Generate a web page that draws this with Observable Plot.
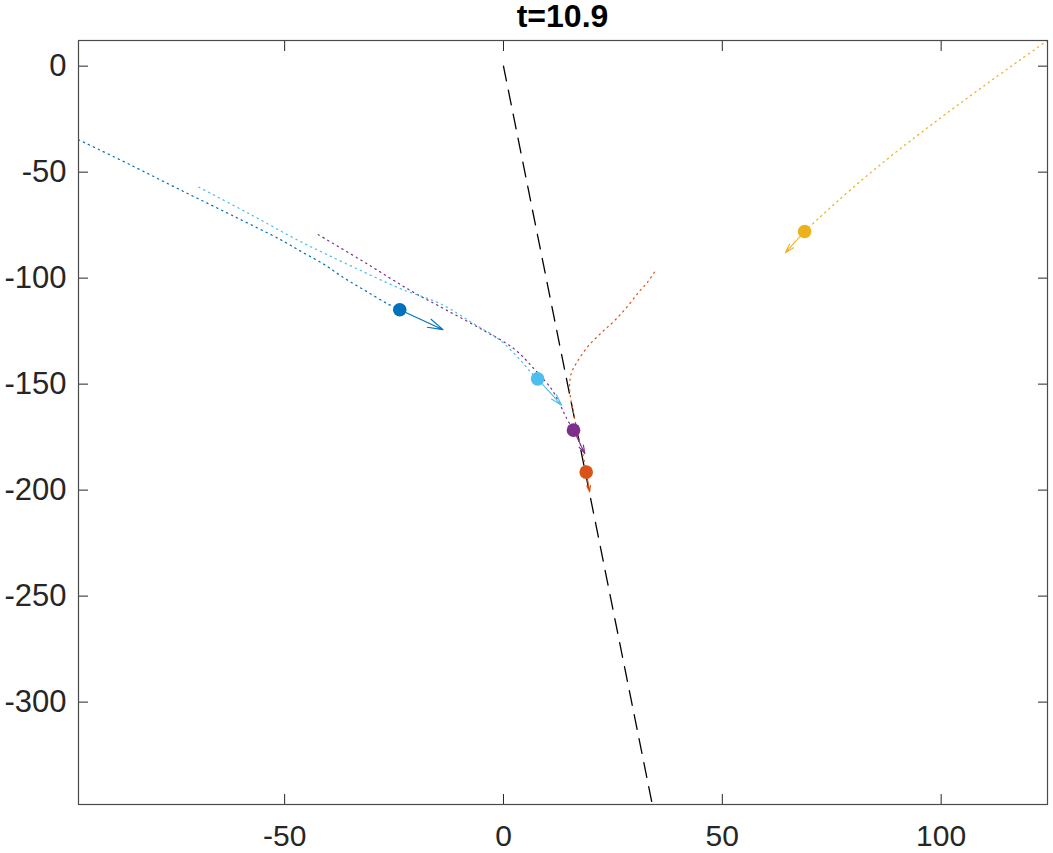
<!DOCTYPE html>
<html>
<head>
<meta charset="utf-8">
<script src="https://cdn.jsdelivr.net/npm/d3@7"></script>
<script src="https://cdn.jsdelivr.net/npm/@observablehq/plot@0.6"></script>
<style>
  body { margin: 0; background: #fff; font-family: "Liberation Sans", Arial, Helvetica, sans-serif; }
  #title { height: 30px; line-height: 32px; padding: 0 6px 0 78px; text-align: center; font-weight: bold; font-size: 32px; color: #000; white-space: nowrap; }
  #chart svg { display: block; }
</style>
</head>
<body>
<div id="title">t=10.9</div>
<div id="chart"></div>
<script>
// ---- data ----
const titleText = "t=10.9";
const xTicks = [-50, 0, 50, 100];
const yTicks = [0, -50, -100, -150, -200, -250, -300];
const xDomain = [-97.1, 124.3];
const yDomain = [-348.3, 12.1];

const seriesNames = ["s1", "s2", "s3", "s4", "s5"];
const seriesColors = ["#0072BD", "#D95319", "#EDB120", "#7E2F8E", "#4DBEEE"];

// trails (dotted paths, ending at each dot)
const trail1X = [-97.1, -85.3, -73.9, -62.3, -50.9, -46.0, -41.0, -36.5, -31.5, -26.5, -23.7];
const trail1Y = [-34.7, -46.5, -58.3, -70.1, -81.9, -87.7, -93.5, -99.8, -106.0, -112.1, -114.9];
const trail2X = [34.5, 32.9, 30.9, 28.3, 25.4, 22.3, 19.3, 16.8, 15.5, 15.1, 15.3, 15.9, 16.5, 17.3, 18.1, 18.9];
const trail2Y = [-97.2, -101.9, -106.6, -113.4, -120.0, -125.9, -132.2, -139.6, -144.8, -150.6, -156.1, -162.4, -168.7, -176.0, -182.8, -191.5];
const trail3X = [124.3, 118.0, 112.0, 106.0, 100.0, 94.0, 88.0, 82.0, 76.0, 72.0, 68.8];
const trail3Y = [12.1, 2.9, -6.0, -15.0, -24.2, -33.6, -43.3, -53.5, -64.3, -71.8, -78.0];
const trail4X = [-42.3, -31.2, -21.3, -12.9, -4.5, 2.4, 7.3, 11.1, 13.0, 14.3, 16.0];
const trail4Y = [-79.5, -93.2, -105.8, -115.2, -124.7, -133.3, -143.5, -152.7, -160.0, -165.6, -171.7];
const trail5X = [-69.6, -58.1, -46.9, -40.4, -32.0, -23.5, -14.4, -6.8, -0.7, 3.9, 6.2, 7.8];
const trail5Y = [-57.1, -69.6, -82.2, -88.8, -97.0, -105.0, -112.1, -121.5, -129.4, -138.8, -144.3, -147.5];

// current positions and velocity-arrow tips
const dotX = [-23.7, 18.9, 68.8, 16.0, 7.8];
const dotY = [-114.9, -191.5, -78.0, -171.7, -147.5];
const tipX = [-13.8, 19.7, 64.4, 18.6, 13.3];
const tipY = [-124.3, -200.9, -88.0, -182.8, -160.0];

// dashed guide line
const guideX = [0, 34.0];
const guideY = [0, -348.3];

// ---- tables built from the arrays ----
const trailXs = [trail1X, trail2X, trail3X, trail4X, trail5X];
const trailYs = [trail1Y, trail2Y, trail3Y, trail4Y, trail5Y];
const trails = [];
seriesNames.forEach((s, i) => trailXs[i].forEach((x, j) => trails.push({series: s, x, y: trailYs[i][j]})));
const points = seriesNames.map((s, i) => ({series: s, x: dotX[i], y: dotY[i], tx: tipX[i], ty: tipY[i]}));
const guide = guideX.map((x, i) => ({x, y: guideY[i]}));

document.getElementById("title").textContent = titleText;

const axisColor = "#262626";
const font = "Liberation Sans, Arial, Helvetica, sans-serif";
const fmt = d => String(d); // plain hyphen-minus like the reference

const chart = Plot.plot({
  width: 1053,
  height: 823,
  marginTop: 10,
  marginBottom: 49,
  marginLeft: 78,
  marginRight: 6,
  style: {fontFamily: font, background: "#fff"},
  x: {domain: xDomain, label: null},
  y: {domain: yDomain, label: null},
  color: {domain: seriesNames, range: seriesColors},
  marks: [
    Plot.line(guide, {x: "x", y: "y", stroke: "#000", strokeWidth: 1.3, strokeDasharray: "15,9.5", clip: true}),
    Plot.line(trails, {x: "x", y: "y", z: "series", stroke: "series", strokeWidth: 1.25, strokeDasharray: "1.3,4.2", curve: "catmull-rom", clip: true}),
    Plot.arrow(points, {x1: "x", y1: "y", x2: "tx", y2: "ty", stroke: "series", strokeWidth: 1.1, headLength: 30, headAngle: 32}),
    Plot.dot(points, {x: "x", y: "y", fill: "series", r: 6.8}),
    // tick labels
    Plot.axisX(xTicks, {anchor: "bottom", tickSize: 0, tickPadding: 20.5, fontSize: 30, color: axisColor, tickFormat: fmt, label: null}),
    Plot.axisY(yTicks, {anchor: "left", tickSize: 0, tickPadding: 12, fontSize: 31, color: axisColor, tickFormat: fmt, label: null}),
    // inward tick marks on all four sides
    Plot.axisX(xTicks, {anchor: "bottom", tickSize: 10, dy: -10, tickFormat: () => "", stroke: axisColor, label: null}),
    Plot.axisX(xTicks, {anchor: "top", tickSize: 10, dy: 10, tickFormat: () => "", stroke: axisColor, label: null}),
    Plot.axisY(yTicks, {anchor: "left", tickSize: 10, dx: 10, tickFormat: () => "", stroke: axisColor, label: null}),
    Plot.axisY(yTicks, {anchor: "right", tickSize: 10, dx: -10, tickFormat: () => "", stroke: axisColor, label: null}),
    Plot.frame({stroke: "#4a4a4a", strokeWidth: 1.2})
  ]
});
document.getElementById("chart").appendChild(chart);
</script>
</body>
</html>
